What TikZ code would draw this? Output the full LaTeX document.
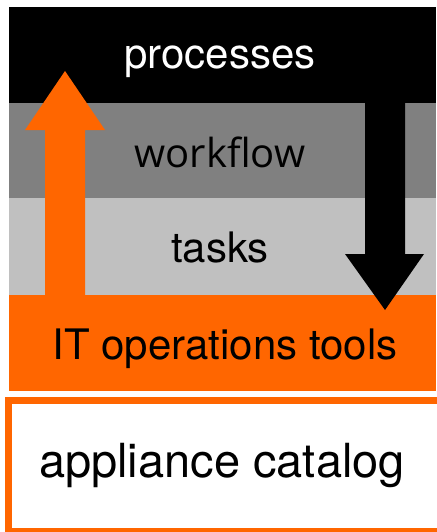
\documentclass[tikz,border=0pt]{standalone}
\usepackage{fontspec}
\setmainfont{TeX Gyre Heros}
\newfontfamily\humanist{Open Sans}
\definecolor{ops}{HTML}{FF6600}
\definecolor{midgray}{HTML}{808080}
\definecolor{lightgray}{HTML}{C0C0C0}
\begin{document}
\begin{tikzpicture}[x=1pt,y=-1pt,
  layer/.style={anchor=base,inner sep=0pt,font=\fontsize{42}{50}\selectfont},
  catalogbox/.style={draw=ops,line width=7pt,fill=white}]
\useasboundingbox (0,0) rectangle (436,532);
\fill[white] (0,0) rectangle (436,532);
% stacked layers
\fill[black] (9,7) rectangle (436,103);
\fill[midgray] (9,103) rectangle (436,198);
\fill[lightgray] (9,198) rectangle (436,295);
\fill[ops] (9,295) rectangle (436,391);
% catalog box, open to the right
\draw[catalogbox] (8.5,400.5) rectangle (450,531);
% upward orange arrow
\fill[ops] (45,300) -- (45,130) -- (25,130) -- (65,71) -- (105,130) -- (85,130) -- (85,300) -- cycle;
% downward black arrow
\fill[black] (365,60) -- (365,254) -- (345,254) -- (385,310) -- (424,254) -- (405,254) -- (405,60) -- cycle;
% labels
\node[layer,text=white] (proc) at (220,69) {processes};
\node[layer,font=\humanist\fontsize{40}{48}\selectfont] (wf) at (220,167) {workflow};
\node[layer] (tasks) at (220,262) {tasks};
\node[layer] (itops) at (225,359) {IT operations tools};
\node[layer,font=\fontsize{47}{56}\selectfont] (cat) at (222,477) {appliance catalog};
\end{tikzpicture}
\end{document}
